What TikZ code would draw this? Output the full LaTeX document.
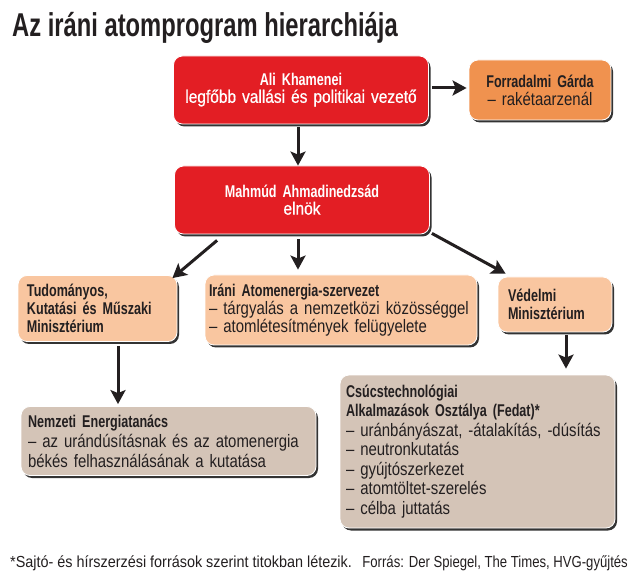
\documentclass[tikz,border=0pt]{standalone}
\usepackage{fontspec}
\setmainfont{Liberation Sans}
\newfontfamily\titlefont[FakeStretch=0.72]{Liberation Sans}
\newfontfamily\boxfont[FakeStretch=0.83, WordSpace=0.8, BoldFeatures={FakeStretch=0.74}]{Liberation Sans}
\newfontfamily\semifont[FakeStretch=0.86, WordSpace=0.8, FakeBold=0.6]{Liberation Sans}
\newfontfamily\footfont[FakeStretch=0.9]{Liberation Sans}
\newfontfamily\srcfont[FakeStretch=0.82]{Liberation Sans}
\usetikzlibrary{arrows.meta,shadows,calc}
\definecolor{kred}{HTML}{E31E24}
\definecolor{korange}{HTML}{F0924F}
\definecolor{kpeach}{HTML}{F9C6A0}
\definecolor{ktan}{HTML}{D4C4B7}
\definecolor{ktext}{HTML}{231F20}
\newcommand{\bhead}[1]{{\fontsize{17}{18}\selectfont\bfseries #1}}
\tikzset{
  box/.style={rounded corners=9pt, draw=white, line width=0.8pt,
    drop shadow={shadow xshift=2pt, shadow yshift=-2.5pt, fill=black!80, opacity=1},
    inner ysep=0pt, font=\boxfont\fontsize{18}{18}\selectfont, text=ktext},
  redbox/.style={box, fill=kred, text=white, align=center, font=\semifont\fontsize{18}{17}\selectfont},
  orbox/.style={box, fill=korange, align=center},
  peachbox/.style={box, fill=kpeach, align=left},
  tanbox/.style={box, fill=ktan, align=left},
  arr/.style={line width=3pt, draw=ktext, -{Stealth[length=14pt,width=15pt,inset=3pt]}},
  foot/.style={font=\footfont\fontsize{16}{18}\selectfont, text=ktext, inner sep=0pt}
}
\begin{document}
\begin{tikzpicture}[x=1pt,y=-1pt]
\useasboundingbox[fill=white] (0,0) rectangle (640,585);
\node[anchor=base west, inner sep=0pt, text=ktext, font=\titlefont\bfseries\fontsize{33}{36}\selectfont] (title) at (12,37) {Az iráni atomprogram hierarchiája};

\node[redbox, minimum width=255pt, minimum height=68pt, text width=245pt] (kham) at (301,90)
  {{\boxfont\bhead{Ali Khamenei}}\\ legfőbb vallási és politikai vezető};
\node[orbox, minimum width=142pt, minimum height=60pt, text width=132pt] (gard) at (540,90)
  {\bhead{Forradalmi Gárda}\\ – rakétaarzenál};
\node[redbox, minimum width=255pt, minimum height=68pt, text width=245pt] (ahm) at (302,200)
  {{\boxfont\bhead{Mahmúd Ahmadinedzsád}}\\ elnök};
\node[peachbox, minimum width=159pt, minimum height=66pt, text width=141pt] (tud) at (97.5,308.5)
  {\bhead{Tudományos,\\ Kutatási és Műszaki\\ Minisztérium}};
\node[peachbox, minimum width=272pt, minimum height=70pt, text width=264pt] (iran) at (341,310)
  {\bhead{Iráni Atomenergia-szervezet}\\ – tárgyalás a nemzetközi közösséggel\\ – atomlétesítmények felügyelete};
\node[peachbox, minimum width=114pt, minimum height=55pt, text width=94pt] (ved) at (555,304.5)
  {\bhead{Védelmi\\ Minisztérium}};
\node[tanbox, minimum width=295pt, minimum height=69pt, text width=281pt, font=\boxfont\fontsize{18}{20}\selectfont] (nemz) at (168.5,441)
  {\bhead{Nemzeti Energiatanács}\\ – az urándúsításnak és az atomenergia\\ békés felhasználásának a kutatása};
\node[tanbox, minimum width=275pt, minimum height=153pt, text width=263pt, font=\boxfont\fontsize{18}{19.5}\selectfont] (csucs) at (477.5,451.5)
  {\bhead{Csúcstechnológiai\\ Alkalmazások Osztálya (Fedat)*}\\ – uránbányászat, -átalakítás, -dúsítás\\ – neutronkutatás\\ – gyújtószerkezet\\ – atomtöltet-szerelés\\ – célba juttatás};

\draw[arr] ([shift={(3,-2)}]kham.east) -- ([shift={(-2,-2)}]kham.east -| gard.west);
\draw[arr] ([shift={(-3,3)}]kham.south) -- ([xshift=-3pt]kham.south |- ahm.north);
\draw[arr] ([shift={(43,6)}]ahm.south west) -- ([shift={(-5,3)}]tud.north east);
\draw[arr] ([shift={(-4,5)}]ahm.south) -- ([shift={(-4,-5)}]ahm.south |- iran.north);
\draw[arr] ([shift={(2,-1)}]ahm.south east) -- ([shift={(8,-3)}]ved.north west);
\draw[arr] ([shift={(20.5,4)}]tud.south) -- ([shift={(20.5,-2)}]tud.south |- nemz.north);
\draw[arr] ([shift={(11,3)}]ved.south) -- ([shift={(11,-6)}]ved.south |- csucs.north);

\node[foot, anchor=base west] (fn) at (10,567) {*Sajtó- és hírszerzési források szerint titokban létezik.};
\node[foot, anchor=base east, font=\srcfont\fontsize{16}{18}\selectfont] (src) at (628,567) {Forrás: Der Spiegel, The Times, HVG-gyűjtés};
\end{tikzpicture}
\end{document}
